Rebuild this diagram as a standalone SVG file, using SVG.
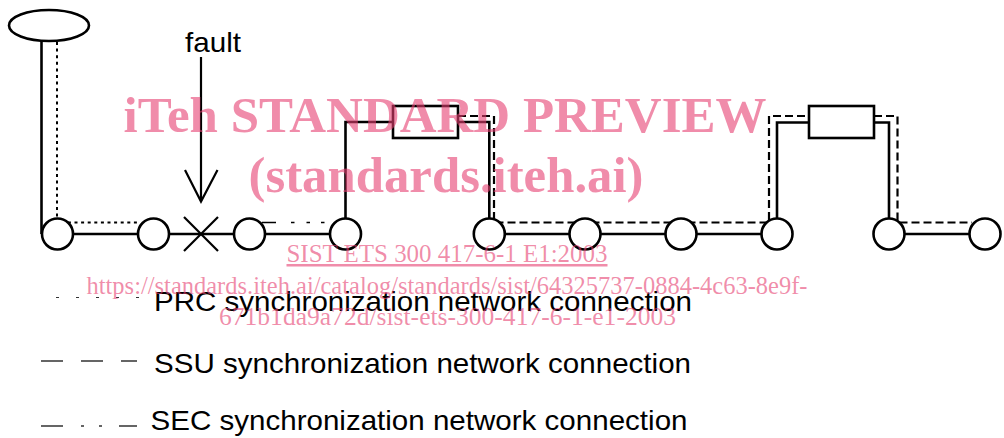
<svg xmlns="http://www.w3.org/2000/svg" width="1004" height="438" viewBox="0 0 1004 438">
<style>
.ln{fill:none;stroke:#000;stroke-width:2.6}
.thin{fill:none;stroke:#000;stroke-width:1.3}
.dot{fill:none;stroke:#000;stroke-width:2;stroke-dasharray:3 3.6}
.dash{fill:none;stroke:#000;stroke-width:2.2;stroke-dasharray:8 4}
.node{fill:#fff;stroke:#000;stroke-width:2.6}
.leg{fill:none;stroke:#333;stroke-width:1.5}
.lab{font-family:"Liberation Sans",Arial,sans-serif;font-size:28px;fill:#000}
.wm{font-family:"Liberation Serif","Times New Roman",serif;fill:#e63f71;fill-opacity:0.6}
</style>
<g id="connectors">
  <path class="ln" d="M41.5 41 V234"/>
  <path class="dot" d="M57 42 V222.5 H138"/>
  <path class="ln" d="M57.5 234 H345.5"/>
  <path class="thin" d="M262 222.5 H276 M291 222.5 H294.5 M306.5 222.5 H310 M321 222.5 H324.5"/>
  <path class="ln" d="M345.5 220 V122 H393 M458 122 H489.3 V220"/>
  <path class="dash" d="M458 116 H494 V222.5 H769 V116 H809"/>
  <path class="ln" d="M489.3 234 H777"/>
  <path class="ln" d="M777 220 V122.5 H809 M874 122.5 H889 V220"/>
  <path class="dash" d="M874 116 H897.5 V222.5 H972"/>
  <path class="ln" d="M889 234 H985"/>
</g>
<g id="top-node"><ellipse class="node" cx="49" cy="25.5" rx="40" ry="15.5"/></g>
<g id="n1"><circle class="node" cx="57.5" cy="234" r="15.5"/></g>
<g id="n2"><circle class="node" cx="153.5" cy="234" r="15.5"/></g>
<g id="fault">
  <path class="ln" d="M184 217 L218 251 M218 217 L184 251" style="stroke-width:2.2"/>
  <path class="ln" d="M201 57 V201 M185 170 L201 201.5 L217.5 170" style="stroke-width:2.2"/>
  <text class="lab" x="185" y="52" textLength="56" lengthAdjust="spacingAndGlyphs">fault</text>
</g>
<g id="n3"><circle class="node" cx="249.5" cy="234" r="15.5"/></g>
<g id="n4"><circle class="node" cx="345.5" cy="234" r="15.5"/></g>
<g id="box1"><rect class="node" x="393" y="106" width="65" height="32"/></g>
<g id="n5"><circle class="node" cx="489.3" cy="234" r="15.5"/></g>
<g id="n6"><circle class="node" cx="585" cy="234" r="15.5"/></g>
<g id="n7"><circle class="node" cx="681" cy="234" r="15.5"/></g>
<g id="n8"><circle class="node" cx="777" cy="234" r="15.5"/></g>
<g id="box2"><rect class="node" x="809" y="106" width="65" height="32"/></g>
<g id="n9"><circle class="node" cx="889" cy="234" r="15.5"/></g>
<g id="n10"><circle class="node" cx="985" cy="234" r="15.5"/></g>
<g id="legend">
  <path class="leg" style="stroke-width:1.2;stroke-dasharray:3 17" d="M56 297.5 H140"/>
  <text class="lab" x="154" y="310.5" textLength="538" lengthAdjust="spacingAndGlyphs">PRC synchronization network connection</text>
  <path class="leg" d="M41 361 H63 M81 361 H103 M121 361 H137"/>
  <text class="lab" x="154" y="372.5" textLength="537" lengthAdjust="spacingAndGlyphs">SSU synchronization network connection</text>
  <path class="leg" d="M41 426 H63 M81 426 H84 M99 426 H102 M119 426 H137"/>
  <text class="lab" x="150.5" y="429.5" textLength="537" lengthAdjust="spacingAndGlyphs">SEC synchronization network connection</text>
</g>
<g id="watermark" text-anchor="middle">
  <text class="wm" x="445" y="132" font-size="50" font-weight="bold" textLength="643" lengthAdjust="spacingAndGlyphs">iTeh STANDARD PREVIEW</text>
  <text class="wm" x="446" y="192" font-size="50" font-weight="bold" textLength="395" lengthAdjust="spacingAndGlyphs">(standards.iteh.ai)</text>
  <text class="wm" x="447" y="262" font-size="25" text-decoration="underline" textLength="321" lengthAdjust="spacingAndGlyphs">SIST ETS 300 417-6-1 E1:2003</text>
  <text class="wm" x="447" y="294" font-size="25" textLength="721" lengthAdjust="spacingAndGlyphs">https://standards.iteh.ai/catalog/standards/sist/64325737-0884-4c63-8e9f-</text>
  <text class="wm" x="447.5" y="325" font-size="25" textLength="457" lengthAdjust="spacingAndGlyphs">671b1da9a72d/sist-ets-300-417-6-1-e1-2003</text>
</g>
</svg>
